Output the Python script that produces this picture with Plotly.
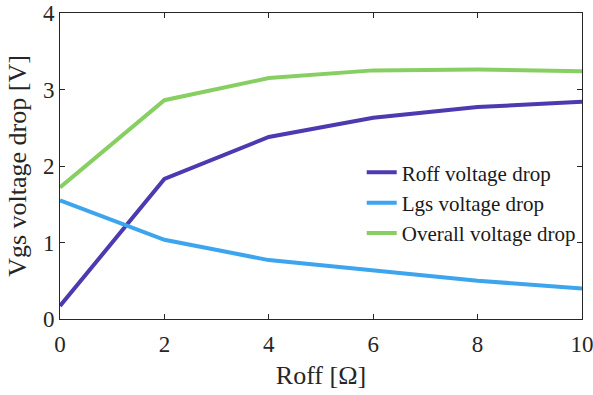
import plotly.graph_objects as go

roff = [0, 2, 4, 6, 8, 10]
roff_drop = [0.17, 1.83, 2.38, 2.63, 2.77, 2.84]
lgs_drop = [1.55, 1.035, 0.77, 0.635, 0.50, 0.40]
overall_drop = [1.72, 2.86, 3.15, 3.25, 3.26, 3.24]
names = ["Roff voltage drop", "Lgs voltage drop", "Overall voltage drop"]
colors = ["#4B3AB0", "#3DA5EE", "#88CF63"]
x_ticks = [0, 2, 4, 6, 8, 10]
y_ticks = [0, 1, 2, 3, 4]

fig = go.Figure()
for ys, n, c in zip([roff_drop, lgs_drop, overall_drop], names, colors):
    fig.add_trace(go.Scatter(x=roff, y=ys, mode="lines", name=n,
                             line=dict(color=c, width=4)))

font_family = "Liberation Serif, Times New Roman, serif"
axis_common = dict(showline=True, linecolor="#262626", linewidth=1, mirror="ticks",
                   ticks="inside", ticklen=5, tickcolor="#262626", showgrid=False,
                   zeroline=False, automargin=False, ticklabeloverflow="allow",
                   tickfont=dict(family=font_family, size=23, color="#262626"))
fig.update_xaxes(range=[0, 10], tickvals=x_ticks, ticklabelstandoff=4,
                 title=dict(text="Roff [Ω]", standoff=10,
                 font=dict(family=font_family, size=26, color="#262626")), **axis_common)
fig.update_yaxes(range=[0, 4], tickvals=y_ticks, title=dict(text="Vgs voltage drop [V]", standoff=8,
                 font=dict(family=font_family, size=26, color="#262626")), **axis_common)

fig.update_layout(
    width=593, height=395, margin=dict(l=60, r=11, t=13, b=76),
    paper_bgcolor="white", plot_bgcolor="white",
    font=dict(family=font_family, color="#262626"),
    legend=dict(x=0.578, y=0.38, xanchor="left", yanchor="middle",
                bgcolor="rgba(255,255,255,0)", borderwidth=0,
                font=dict(family=font_family, size=21, color="#1a1a1a"),
                tracegroupgap=0),
)
fig.write_html("out.html")
